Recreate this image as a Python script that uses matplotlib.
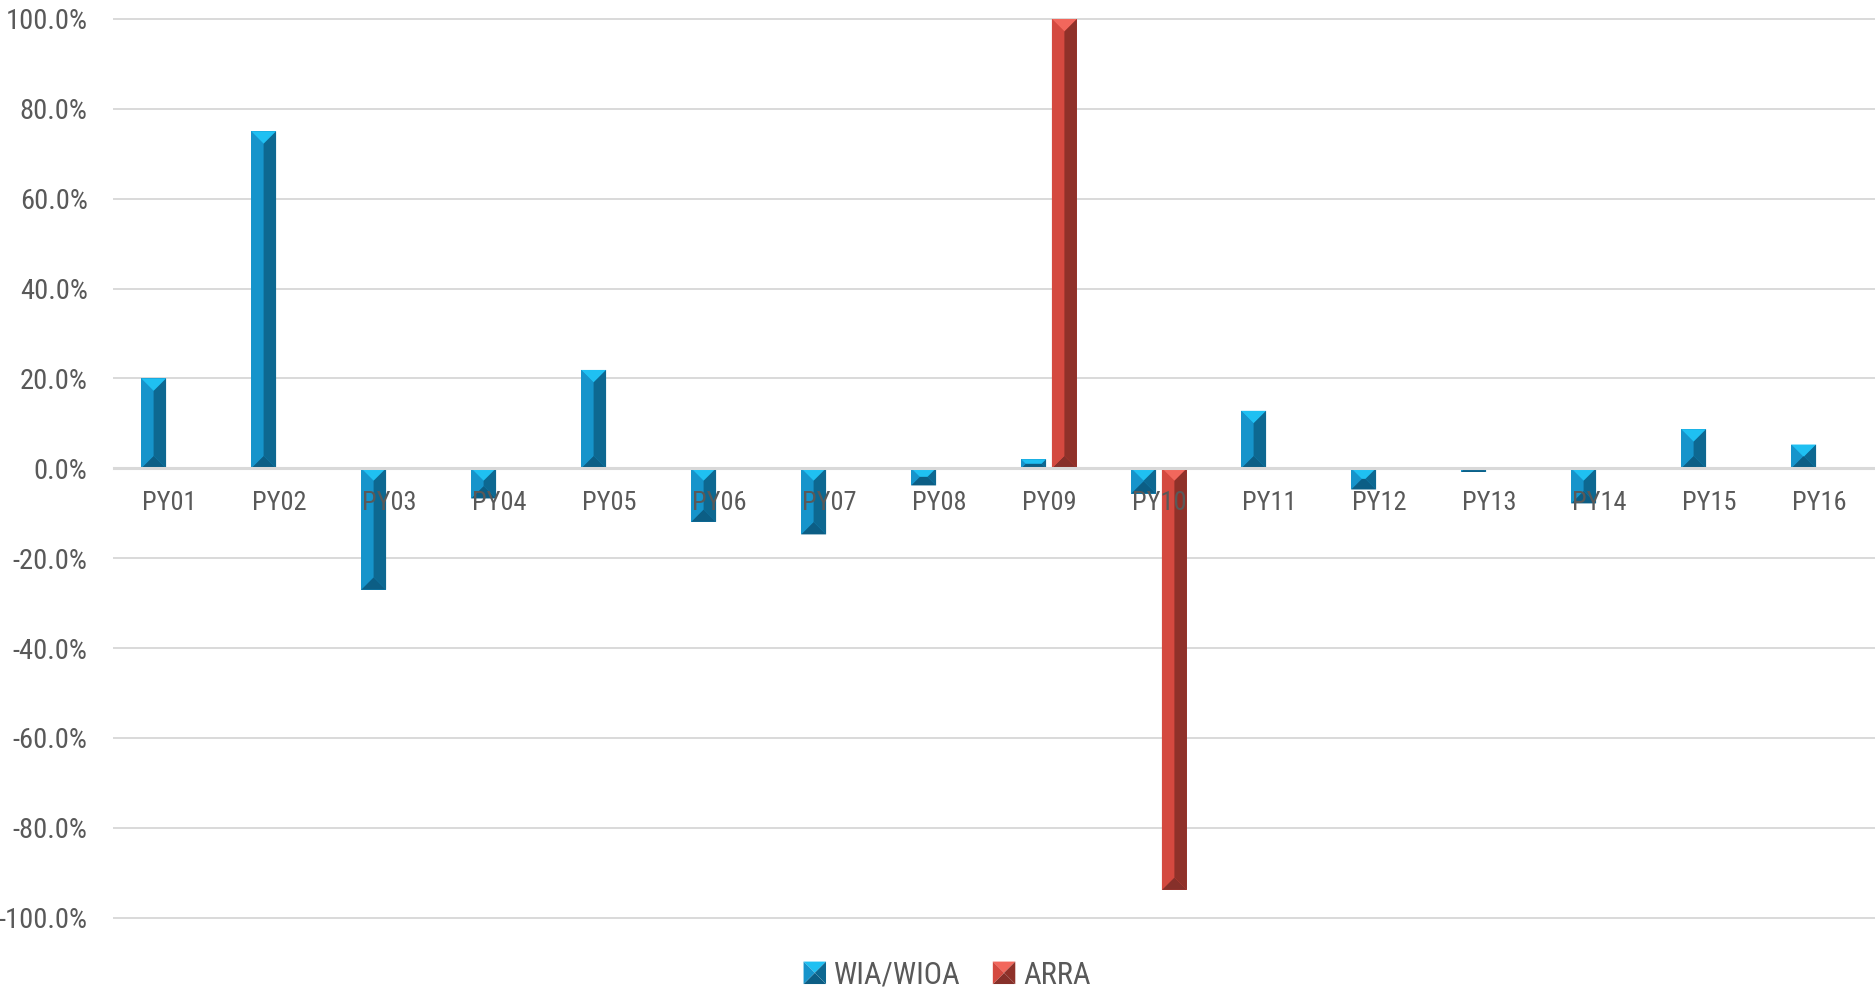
import matplotlib
matplotlib.use("Agg")
import matplotlib.pyplot as plt
import numpy as np
from matplotlib.patches import Polygon
from matplotlib.legend_handler import HandlerBase
from matplotlib.ticker import FuncFormatter, MultipleLocator

# ---- data -------------------------------------------------------------
categories = ["PY01", "PY02", "PY03", "PY04", "PY05", "PY06", "PY07", "PY08",
              "PY09", "PY10", "PY11", "PY12", "PY13", "PY14", "PY15", "PY16"]
wia_wioa = [20.0, 75.0, -27.0, -6.7, 21.9, -11.9, -14.7, -3.8,
            2.0, -5.6, 12.8, -4.7, -0.8, -7.8, 8.7, 5.3]
arra = [np.nan] * 8 + [100.0, -93.8] + [np.nan] * 6
series_names = ["WIA/WIOA", "ARRA"]

# facet colours: top, left, right, bottom
BLUE = dict(top="#1fc0f2", left="#1694cb", right="#0d6891", bottom="#0c5e85")
RED = dict(top="#f2675c", left="#d4493f", right="#8f3129", bottom="#86302a")

TEXT = "#595959"
GRID = "#d9d9d9"

plt.rcParams["font.family"] = ["Roboto Condensed", "Archivo Narrow", "DejaVu Sans"]
plt.rcParams["axes.unicode_minus"] = False

W, H = 1875, 991
fig = plt.figure(figsize=(W / 100, H / 100), dpi=100)
ax = fig.add_axes([114 / W, 73.3 / H, 1760 / W, 898.7 / H])

x = np.arange(len(categories))
bw = 0.227
off = 0.14

bars_a = ax.bar(x - off, wia_wioa, bw, color=BLUE["left"], zorder=2)
mask = ~np.isnan(arra)
bars_b = ax.bar(x[mask] + off, np.array(arra)[mask], bw, color=RED["left"], zorder=2)

ax.set_xlim(-0.5, len(categories) - 0.5)
ax.set_ylim(-100, 100)

# axis styling
for s in ("top", "right", "left"):
    ax.spines[s].set_visible(False)
ax.spines["bottom"].set_position(("data", 0))
ax.spines["bottom"].set_color(GRID)
ax.spines["bottom"].set_linewidth(2.2)
ax.spines["bottom"].set_zorder(4)

ax.yaxis.set_major_locator(MultipleLocator(20))
ax.yaxis.set_major_formatter(FuncFormatter(lambda v, p: f"{v:.1f}%"))
ax.grid(axis="y", color=GRID, linewidth=1.4, zorder=0)
for gl in ax.get_ygridlines():
    gl.set_clip_on(False)
ax.set_axisbelow(True)

ax.set_xticks(x)
ax.set_xticklabels(categories)
ax.tick_params(axis="x", length=0, pad=16.5, labelsize=19, labelcolor=TEXT)
ax.tick_params(axis="y", length=0, pad=19, labelsize=20.5, labelcolor=TEXT)
# category labels sit on top of the bars that cross them
ax.xaxis.set_zorder(5)


def facets(x0, x1, y0, y1):
    """Split a rectangle (display coords, y up) into four bevel facets."""
    w, h = x1 - x0, y1 - y0
    cx, cy = (x0 + x1) / 2, (y0 + y1) / 2
    if h >= w:
        d = w / 2
        pt, pb = (cx, y1 - d), (cx, y0 + d)
        return dict(top=[(x0, y1), (x1, y1), pt],
                    bottom=[(x0, y0), (x1, y0), pb],
                    left=[(x0, y1), pt, pb, (x0, y0)],
                    right=[(x1, y1), pt, pb, (x1, y0)])
    d = h / 2
    pl, pr = (x0 + d, cy), (x1 - d, cy)
    return dict(top=[(x0, y1), (x1, y1), pr, pl],
                bottom=[(x0, y0), (x1, y0), pr, pl],
                left=[(x0, y1), pl, (x0, y0)],
                right=[(x1, y1), pr, (x1, y0)])


def bevel(container, colors):
    to_disp = ax.transData
    to_data = ax.transData.inverted()
    for r in container:
        bx, by = r.get_x(), r.get_y()
        bw_, bh = r.get_width(), r.get_height()
        (px0, py0), (px1, py1) = to_disp.transform([(bx, min(by, by + bh)),
                                                   (bx + bw_, max(by, by + bh))])
        for name, pts in facets(px0, px1, py0, py1).items():
            poly = Polygon(to_data.transform(pts), closed=True, facecolor=colors[name],
                           edgecolor="none", zorder=3)
            ax.add_patch(poly)


bevel(bars_a, BLUE)
bevel(bars_b, RED)


class BevelHandler(HandlerBase):
    def __init__(self, colors):
        super().__init__()
        self.colors = colors

    def create_artists(self, legend, orig_handle, xdescent, ydescent, width,
                       height, fontsize, trans):
        s = height * 1.05
        x0 = width - s
        y0 = (height - s) / 2
        out = []
        for name, pts in facets(x0, x0 + s, y0, y0 + s).items():
            p = Polygon(pts, closed=True, facecolor=self.colors[name],
                        edgecolor="none", transform=trans)
            out.append(p)
        return out


fig.legend([bars_a, bars_b], series_names, loc="center",
           bbox_to_anchor=(946 / W, 16 / H), ncol=2, frameon=False,
           fontsize=22, labelcolor=TEXT, handlelength=0.8, handletextpad=0.25,
           columnspacing=1.0,
           handler_map={bars_a: BevelHandler(BLUE), bars_b: BevelHandler(RED)})

fig.savefig("out.png", dpi=100, facecolor="white")
